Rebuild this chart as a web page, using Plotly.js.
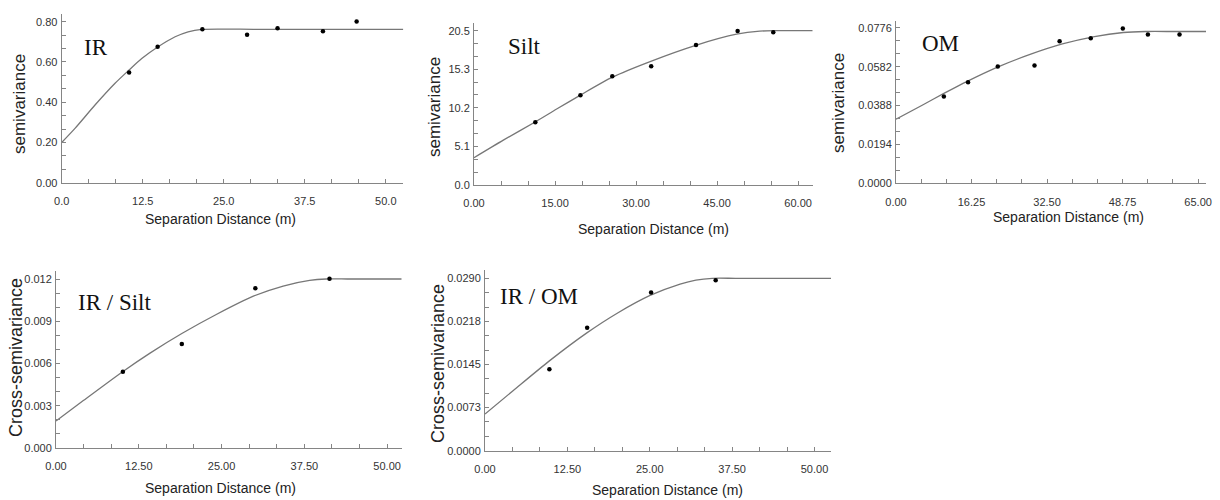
<!DOCTYPE html>
<html>
<head>
<meta charset="utf-8">
<script src="https://cdn.plot.ly/plotly-3.0.1.min.js"></script>
<style>
html,body{margin:0;padding:0;background:#fff;}
#chart{width:1220px;height:500px;}
</style>
</head>
<body>
<div id="chart"></div>
<script>
// ---------- data ----------
// IR semivariogram
const irLagX = [10.4, 14.8, 21.7, 28.6, 33.3, 40.3, 45.5];
const irGamma = [0.547, 0.676, 0.762, 0.735, 0.768, 0.752, 0.801];
const irModelX = [0, 2.05, 5.14, 8.23, 10.39, 12.35, 14.76, 17.5, 19.5, 21.6, 30, 40, 52.7];
const irModelY = [0.200, 0.270, 0.386, 0.494, 0.560, 0.617, 0.673, 0.725, 0.750, 0.762, 0.762, 0.762, 0.762];
const irXTicks = [0, 12.5, 25, 37.5, 50];
const irXLabels = ["0.0", "12.5", "25.0", "37.5", "50.0"];
const irYTicks = [0, 0.2, 0.4, 0.6, 0.8];
const irYLabels = ["0.00", "0.20", "0.40", "0.60", "0.80"];

// Silt semivariogram
const siltLagX = [11.35, 19.7, 25.6, 32.8, 41.1, 48.8, 55.4];
const siltGamma = [8.32, 11.91, 14.43, 15.76, 18.6, 20.46, 20.28];
const siltModelX = [0, 5.43, 11.4, 15.3, 19.7, 25.6, 32.6, 41.2, 48.6, 52.9, 56.0, 59.5, 62.7];
const siltModelY = [3.63, 5.96, 8.41, 10.09, 11.94, 14.32, 16.4, 18.59, 20.03, 20.44, 20.5, 20.5, 20.5];
const siltXTicks = [0, 15, 30, 45, 60];
const siltXLabels = ["0.00", "15.00", "30.00", "45.00", "60.00"];
const siltYTicks = [0, 5.125, 10.25, 15.375, 20.5];
const siltYLabels = ["0.0", "5.1", "10.2", "15.3", "20.5"];

// OM semivariogram
const omLagX = [10.3, 15.5, 21.9, 29.8, 35.2, 41.9, 48.8, 54.2, 61.0];
const omGamma = [0.0433, 0.0505, 0.0583, 0.0588, 0.0709, 0.0724, 0.0773, 0.0743, 0.0743];
const omModelX = [0, 5.63, 10.4, 15.2, 22.1, 29.0, 35.8, 42.7, 48.9, 53.7, 60, 66.7];
const omModelY = [0.0320, 0.0390, 0.0450, 0.0508, 0.0583, 0.0645, 0.0696, 0.0733, 0.0753, 0.0758, 0.0758, 0.0758];
const omXTicks = [0, 16.25, 32.5, 48.75, 65];
const omXLabels = ["0.00", "16.25", "32.50", "48.75", "65.00"];
const omYTicks = [0, 0.0194, 0.0388, 0.0582, 0.0776];
const omYLabels = ["0.0000", "0.0194", "0.0388", "0.0582", "0.0776"];

// IR / Silt cross-semivariogram
const irSiltLagX = [10.1, 19.0, 30.1, 41.3];
const irSiltGamma = [0.00542, 0.00738, 0.01134, 0.01202];
const irSiltModelX = [0, 4.13, 10.06, 14.2, 19.0, 24.2, 29.8, 34.3, 38.3, 40.8, 44, 48, 52.2];
const irSiltModelY = [0.00192, 0.00337, 0.00542, 0.00674, 0.00813, 0.00948, 0.01078, 0.01150, 0.01190, 0.01200, 0.01200, 0.01200, 0.01200];
const irSiltXTicks = [0, 12.5, 25, 37.5, 50];
const irSiltXLabels = ["0.00", "12.50", "25.00", "37.50", "50.00"];
const irSiltYTicks = [0, 0.003, 0.006, 0.009, 0.012];
const irSiltYLabels = ["0.000", "0.003", "0.006", "0.009", "0.012"];

// IR / OM cross-semivariogram
const irOmLagX = [9.77, 15.5, 25.2, 35.0];
const irOmGamma = [0.01369, 0.0207, 0.02660, 0.02866];
const irOmModelX = [0, 4.30, 9.77, 15.4, 20.0, 25.05, 29.6, 32.0, 34.5, 38, 44, 52.5];
const irOmModelY = [0.00617, 0.01013, 0.01511, 0.01978, 0.02309, 0.02612, 0.02803, 0.0287, 0.0290, 0.0290, 0.0290, 0.0290];
const irOmXTicks = [0, 12.5, 25, 37.5, 50];
const irOmXLabels = ["0.00", "12.50", "25.00", "37.50", "50.00"];
const irOmYTicks = [0, 0.00725, 0.0145, 0.02175, 0.029];
const irOmYLabels = ["0.0000", "0.0073", "0.0145", "0.0218", "0.0290"];

const panelNames = ["IR", "Silt", "OM", "IR / Silt", "IR / OM"];
const xTitle = "Separation Distance (m)";
const yTitles = ["semivariance", "semivariance", "semivariance", "Cross-semivariance", "Cross-semivariance"];

// ---------- layout geometry (pixels) ----------
const W = 1220, H = 500;
const panels = [
  {lagX: irLagX, g: irGamma, mx: irModelX, my: irModelY, xt: irXTicks, xl: irXLabels, yt: irYTicks, yl: irYLabels,
   xr: [0, 52.7], yr: [0, 0.84], px: [61.7, 403.3], py: [182.7, 13.65],
   name: [96, 48], xtitle: [220, 219], ytitle: [20, 104]},
  {lagX: siltLagX, g: siltGamma, mx: siltModelX, my: siltModelY, xt: siltXTicks, xl: siltXLabels, yt: siltYTicks, yl: siltYLabels,
   xr: [0, 62.7], yr: [0, 21.56], px: [474, 812.7], py: [185, 22.7],
   name: [524, 47], xtitle: [653, 229], ytitle: [435, 107]},
  {lagX: omLagX, g: omGamma, mx: omModelX, my: omModelY, xt: omXTicks, xl: omXLabels, yt: omYTicks, yl: omYLabels,
   xr: [0, 66.7], yr: [0, 0.0812], px: [896, 1206], py: [183.3, 20.7],
   name: [940, 44], xtitle: [1068, 217], ytitle: [839, 103]},
  {lagX: irSiltLagX, g: irSiltGamma, mx: irSiltModelX, my: irSiltModelY, xt: irSiltXTicks, xl: irSiltXLabels, yt: irSiltYTicks, yl: irSiltYLabels,
   xr: [0, 52.2], yr: [0, 0.01259], px: [56, 401.7], py: [448, 270.7],
   name: [114, 302], xtitle: [220, 488], ytitle: [16, 358]},
  {lagX: irOmLagX, g: irOmGamma, mx: irOmModelX, my: irOmModelY, xt: irOmXTicks, xl: irOmXLabels, yt: irOmYTicks, yl: irOmYLabels,
   xr: [0, 52.5], yr: [0, 0.0304], px: [485, 831], py: [450.7, 270],
   name: [539, 296], xtitle: [667, 490], ytitle: [438, 364]}
];

const tickFont = {family: "Liberation Sans, Arial, sans-serif", size: 11, color: "#333"};
const axisColor = "#858585";

const data = [];
const layout = {
  width: W, height: H,
  margin: {l: 0, r: 0, t: 0, b: 0},
  paper_bgcolor: "#fff", plot_bgcolor: "#fff",
  showlegend: false,
  annotations: []
};

panels.forEach((p, i) => {
  const n = i + 1;
  const xa = n === 1 ? "x" : "x" + n;
  const ya = n === 1 ? "y" : "y" + n;
  data.push({x: p.mx, y: p.my, xaxis: xa, yaxis: ya, type: "scatter", mode: "lines",
             line: {color: "#777", width: 1.3, shape: "spline", smoothing: 0.7}, hoverinfo: "skip", cliponaxis: false});
  data.push({x: p.lagX, y: p.g, xaxis: xa, yaxis: ya, type: "scatter", mode: "markers",
             marker: {color: "#000", size: 4.5}, hoverinfo: "skip", cliponaxis: false});
  const xstep = p.xt[1] - p.xt[0];
  const ystep = p.yt[1] - p.yt[0];
  layout["xaxis" + (n === 1 ? "" : n)] = {
    domain: [p.px[0] / W, p.px[1] / W], anchor: ya, range: p.xr,
    showline: true, linecolor: axisColor, linewidth: 1, showgrid: false, zeroline: false,
    ticks: "inside", ticklen: 4, tickcolor: axisColor, tickwidth: 1,
    tickmode: "array", tickvals: p.xt, ticktext: p.xl, tickfont: tickFont, ticklabelstandoff: 8,
    ticklabeloverflow: "allow",
    minor: {ticks: "inside", ticklen: 4, tickcolor: axisColor, tickmode: "linear", tick0: 0, dtick: xstep / 3, showgrid: false},
    fixedrange: true
  };
  layout["yaxis" + (n === 1 ? "" : n)] = {
    domain: [1 - p.py[0] / H, 1 - p.py[1] / H], anchor: xa, range: p.yr,
    showline: true, linecolor: axisColor, linewidth: 1, showgrid: false, zeroline: false,
    ticks: "inside", ticklen: 4, tickcolor: axisColor, tickwidth: 1,
    tickmode: "array", tickvals: p.yt, ticktext: p.yl, tickfont: tickFont, ticklabelstandoff: 1,
    minor: {ticks: "inside", ticklen: 4, tickcolor: axisColor, tickmode: "linear", tick0: 0, dtick: ystep / 3, showgrid: false},
    fixedrange: true
  };
  layout.annotations.push({
    text: panelNames[i], xref: "paper", yref: "paper", x: p.name[0] / W, y: 1 - p.name[1] / H,
    xanchor: "center", yanchor: "middle", showarrow: false,
    font: {family: "Liberation Serif, Times New Roman, serif", size: 23, color: "#111"}
  });
  layout.annotations.push({
    text: xTitle, xref: "paper", yref: "paper", x: p.xtitle[0] / W, y: 1 - p.xtitle[1] / H,
    xanchor: "center", yanchor: "middle", showarrow: false,
    font: {family: "Liberation Sans, Arial, sans-serif", size: 14, color: "#222"}
  });
  layout.annotations.push({
    text: yTitles[i], xref: "paper", yref: "paper", x: p.ytitle[0] / W, y: 1 - p.ytitle[1] / H,
    xanchor: "center", yanchor: "middle", showarrow: false, textangle: -90,
    font: {family: "Liberation Sans, Arial, sans-serif", size: i < 3 ? 17 : 18, color: "#222"}
  });
});

Plotly.newPlot("chart", data, layout, {staticPlot: true, displayModeBar: false});
</script>
</body>
</html>
